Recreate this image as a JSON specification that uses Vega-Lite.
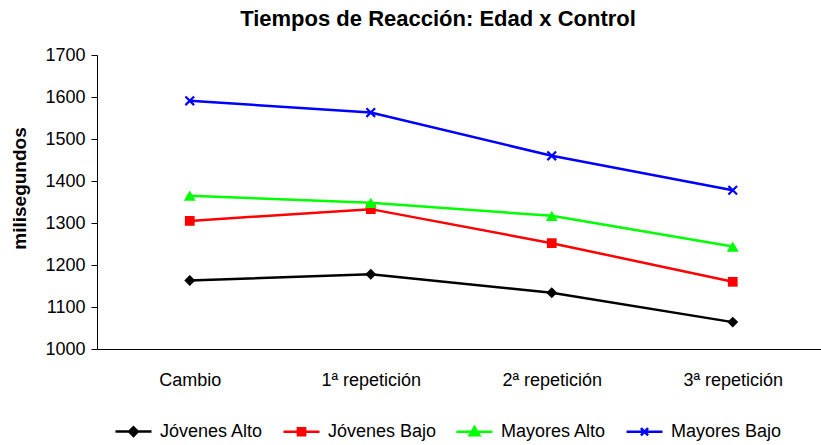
{
  "$schema": "https://vega.github.io/schema/vega-lite/v6.json",
  "autosize": "none",
  "width": 724,
  "height": 294,
  "padding": {"left": 97, "top": 55, "right": 0, "bottom": 96},
  "background": "white",
  "config": {"view": {"stroke": null}, "font": "Liberation Sans"},
  "title": {"text": "Tiempos de Reacción: Edad x Control", "fontSize": 22, "fontWeight": "bold", "font": "Liberation Sans", "color": "black", "anchor": "middle", "frame": "group", "dx": -21, "offset": 15},
  "data": {"values": [
    {"fase": "Cambio", "grupo": "Jóvenes Alto", "ms": 1163},
    {"fase": "1ª repetición", "grupo": "Jóvenes Alto", "ms": 1178},
    {"fase": "2ª repetición", "grupo": "Jóvenes Alto", "ms": 1134},
    {"fase": "3ª repetición", "grupo": "Jóvenes Alto", "ms": 1064},
    {"fase": "Cambio", "grupo": "Jóvenes Bajo", "ms": 1305},
    {"fase": "1ª repetición", "grupo": "Jóvenes Bajo", "ms": 1333},
    {"fase": "2ª repetición", "grupo": "Jóvenes Bajo", "ms": 1252},
    {"fase": "3ª repetición", "grupo": "Jóvenes Bajo", "ms": 1160},
    {"fase": "Cambio", "grupo": "Mayores Alto", "ms": 1365},
    {"fase": "1ª repetición", "grupo": "Mayores Alto", "ms": 1348},
    {"fase": "2ª repetición", "grupo": "Mayores Alto", "ms": 1317},
    {"fase": "3ª repetición", "grupo": "Mayores Alto", "ms": 1244},
    {"fase": "Cambio", "grupo": "Mayores Bajo", "ms": 1591},
    {"fase": "1ª repetición", "grupo": "Mayores Bajo", "ms": 1563},
    {"fase": "2ª repetición", "grupo": "Mayores Bajo", "ms": 1460},
    {"fase": "3ª repetición", "grupo": "Mayores Bajo", "ms": 1378}
  ]},
  "encoding": {
    "x": {
      "field": "fase", "type": "nominal",
      "sort": ["Cambio", "1ª repetición", "2ª repetición", "3ª repetición"],
      "scale": {"type": "point", "paddingOuter": 0.4825, "align": 0.5125},
      "axis": {"title": null, "domainColor": "black", "domainWidth": 1, "ticks": false, "labelFontSize": 18, "labelFont": "Liberation Sans", "labelColor": "black", "labelPadding": 22, "labelAngle": 0, "grid": false}
    },
    "y": {
      "field": "ms", "type": "quantitative",
      "scale": {"domain": [1000, 1700], "nice": false, "zero": false},
      "axis": {"title": "milisegundos", "format": "d", "values": [1000, 1100, 1200, 1300, 1400, 1500, 1600, 1700], "grid": false, "domainColor": "black", "tickColor": "black", "tickSize": 6, "labelFontSize": 18, "labelFont": "Liberation Sans", "labelColor": "black", "labelPadding": 6, "titleFontSize": 19, "titleFont": "Liberation Sans", "titleFontWeight": "bold", "titleColor": "black", "titleAngle": 270, "titleX": -78, "titleY": 133, "titleAlign": "center", "titleBaseline": "middle"}
    },
    "color": {
      "field": "grupo", "type": "nominal",
      "scale": {"domain": ["Jóvenes Alto", "Jóvenes Bajo", "Mayores Alto", "Mayores Bajo"], "range": ["#000000", "#ff0000", "#00ff00", "#0000ff"]},
      "legend": null
    }
  },
  "resolve": {"legend": {"color": "independent", "shape": "independent"}},
  "layer": [
    {"mark": {"type": "line", "strokeWidth": 2.5}},
    {"transform": [{"filter": "datum.grupo === 'Jóvenes Alto'"}], "mark": {"type": "point", "shape": "diamond", "filled": true, "opacity": 1, "size": 120}},
    {"transform": [{"filter": "datum.grupo === 'Jóvenes Bajo'"}], "mark": {"type": "point", "shape": "square", "filled": true, "opacity": 1, "size": 95}},
    {"transform": [{"filter": "datum.grupo === 'Mayores Alto'"}], "mark": {"type": "point", "shape": "triangle-up", "filled": true, "opacity": 1, "size": 140}},
    {"transform": [{"filter": "datum.grupo === 'Mayores Bajo'"}], "mark": {"type": "point", "shape": "M-1,-1L1,1M-1,1L1,-1", "filled": false, "opacity": 1, "size": 75, "strokeWidth": 2.2}},
    {
      "mark": {"type": "point", "filled": true, "opacity": 0},
      "encoding": {
        "color": {
          "field": "grupo", "type": "nominal",
          "scale": {"domain": ["Jóvenes Alto", "Jóvenes Bajo", "Mayores Alto", "Mayores Bajo"], "range": ["#000000", "#ff0000", "#00ff00", "#0000ff"]},
          "legend": {
            "orient": "none", "legendX": 17, "legendY": 357, "direction": "horizontal", "columns": 4, "title": null,
            "labelFontSize": 18, "labelFont": "Liberation Sans", "labelColor": "black", "labelOffset": 7,
            "symbolSize": 1296, "symbolStrokeWidth": 2.5, "symbolOpacity": 1, "columnPadding": 14,
            "encode": {"symbols": {"update": {"stroke": {"signal": "scale('color', datum.value)"}, "strokeWidth": {"value": 2.5}, "opacity": {"value": 1}}}}
          }
        },
        "shape": {
          "field": "grupo", "type": "nominal",
          "scale": {"domain": ["Jóvenes Alto", "Jóvenes Bajo", "Mayores Alto", "Mayores Bajo"], "range": [
            "M-1,0L1,0M0,-0.24L0.24,0L0,0.24L-0.24,0Z",
            "M-1,0L1,0M-0.2,-0.2L0.2,-0.2L0.2,0.2L-0.2,0.2Z",
            "M-1,0L1,0M0,-0.26L0.27,0.2L-0.27,0.2Z",
            "M-1,0L1,0M-0.2,-0.2L0.2,0.2M-0.2,0.2L0.2,-0.2"
          ]},
          "legend": {"orient": "none", "legendX": 17, "legendY": 357, "direction": "horizontal", "columns": 4, "title": null}
        }
      }
    }
  ]
}
